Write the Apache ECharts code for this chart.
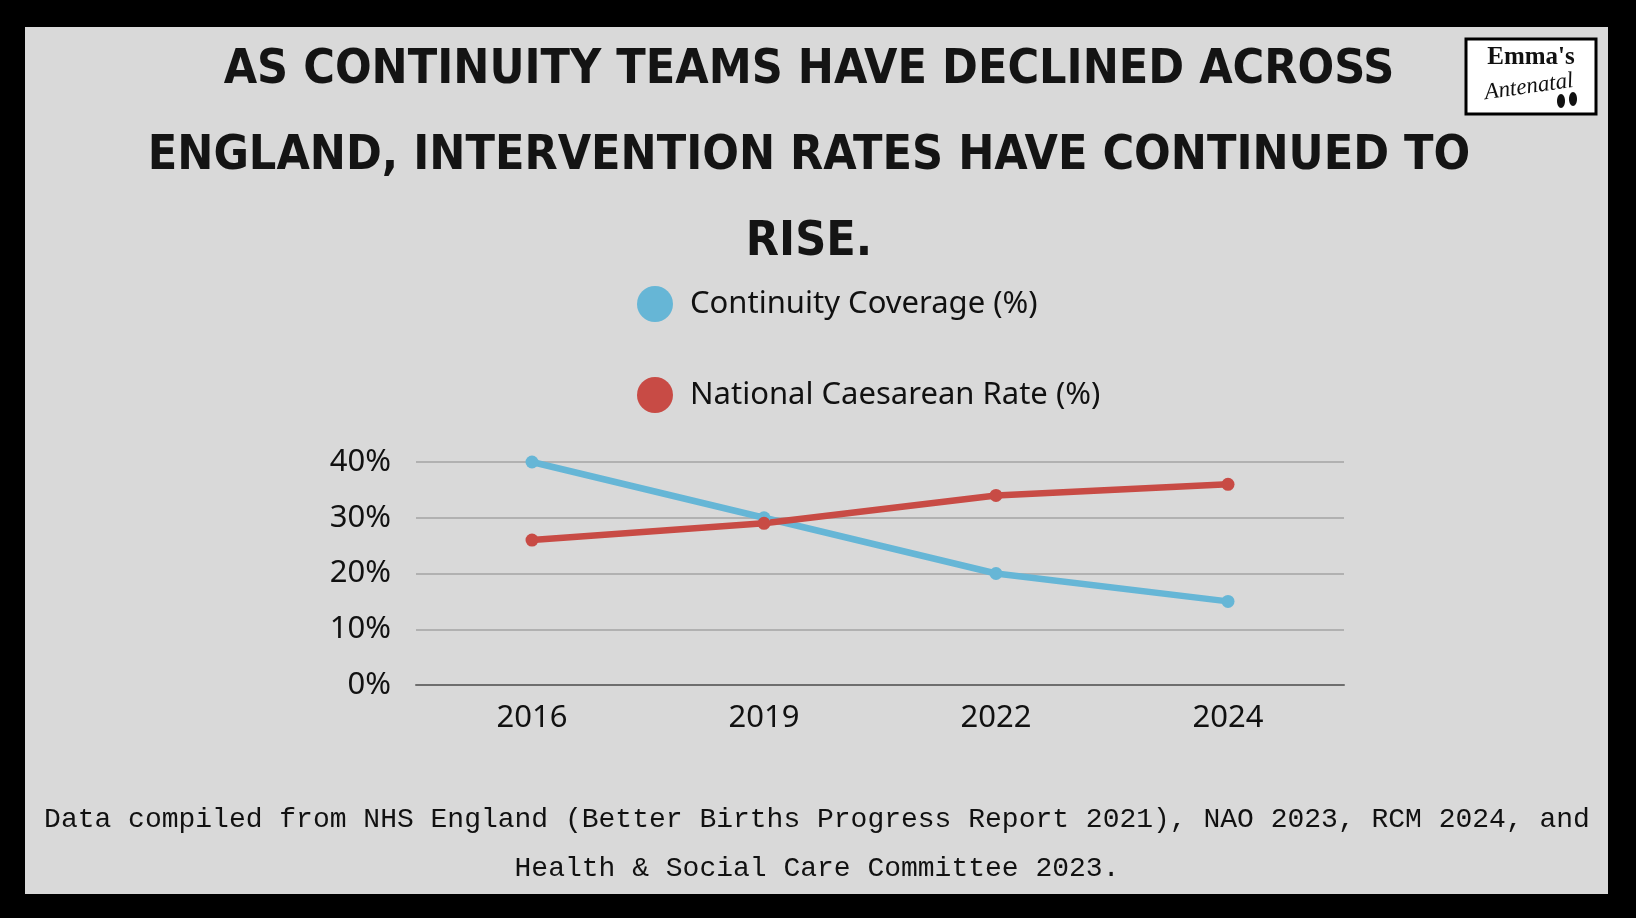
<!DOCTYPE html>
<html>
<head>
<meta charset="utf-8">
<script src="https://cdn.jsdelivr.net/npm/echarts@6/dist/echarts.min.js"></script>
<style>
html,body{margin:0;padding:0;background:#000;}
#chart{width:1636px;height:918px;}
</style>
</head>
<body>
<div id="chart"></div>
<script>
const years = ['2016', '2019', '2022', '2024'];
const continuityCoverage = [40, 30, 20, 15];
const caesareanRate = [26, 29, 34, 36];
const yTicks = [0, 10, 20, 30, 40];
const titleLines = [
  'AS CONTINUITY TEAMS HAVE DECLINED ACROSS',
  'ENGLAND, INTERVENTION RATES HAVE CONTINUED TO',
  'RISE.'
];
const footerLines = [
  'Data compiled from NHS England (Better Births Progress Report 2021), NAO 2023, RCM 2024, and',
  'Health & Social Care Committee 2023.'
];

const BLUE = '#66b6d6';
const RED = '#c84b45';
const titleFont = "'DejaVu Sans Condensed', 'Liberation Sans', sans-serif";
const labelFont = "'Noto Sans', 'DejaVu Sans', sans-serif";
const footFont = "'Liberation Mono', 'DejaVu Sans Mono', monospace";

const chart = echarts.init(document.getElementById('chart'));

const graphics = [
  { type: 'rect', z: -1, shape: { x: 25, y: 27, width: 1583, height: 867 }, style: { fill: '#d9d9d9' } },
  // logo
  { type: 'rect', shape: { x: 1466, y: 39, width: 130, height: 75 }, style: { fill: '#ffffff', stroke: '#000', lineWidth: 3 } },
  { type: 'text', x: 1531, y: 58, style: { text: "Emma's", font: "bold 25px 'Liberation Serif', serif", fill: '#111', textAlign: 'center', textVerticalAlign: 'middle' } },
  { type: 'text', x: 1529, y: 87, rotation: 0.14, style: { text: 'Antenatal', font: "italic 23px 'Liberation Serif', serif", fill: '#111', textAlign: 'center', textVerticalAlign: 'middle' } },
  { type: 'ellipse', shape: { cx: 1561, cy: 101, rx: 4, ry: 7 }, style: { fill: '#111' } },
  { type: 'ellipse', shape: { cx: 1573, cy: 99, rx: 4, ry: 7 }, style: { fill: '#111' } }
];
titleLines.forEach((t, i) => {
  graphics.push({ type: 'text', x: 809, y: 71 + i * 86, style: { text: t, font: 'bold 48px ' + titleFont, fill: '#141414', textAlign: 'center', textVerticalAlign: 'middle' } });
});
footerLines.forEach((t, i) => {
  graphics.push({ type: 'text', x: 817, y: 820 + i * 49, style: { text: t, font: '28px ' + footFont, fill: '#111', textAlign: 'center', textVerticalAlign: 'middle' } });
});

chart.setOption({
  backgroundColor: '#000',
  animation: false,
  graphic: graphics,
  legend: {
    orient: 'vertical',
    left: 632,
    top: 281,
    itemWidth: 36,
    itemHeight: 36,
    itemGap: 55,
    icon: 'circle',
    textStyle: { fontFamily: labelFont, fontSize: 31, color: '#111', padding: [0, 0, 0, 12] },
    data: ['Continuity Coverage (%)', 'National Caesarean Rate (%)']
  },
  grid: { left: 416, top: 462, width: 928, height: 223, containLabel: false },
  xAxis: {
    type: 'category',
    data: years,
    boundaryGap: true,
    axisLine: { show: true, lineStyle: { color: '#6e6e6e', width: 2 } },
    axisTick: { show: false },
    axisLabel: { fontFamily: labelFont, fontSize: 31, color: '#111', margin: 18 }
  },
  yAxis: {
    type: 'value',
    min: yTicks[0],
    max: yTicks[yTicks.length - 1],
    interval: 10,
    axisLine: { show: false },
    axisTick: { show: false },
    splitLine: { lineStyle: { color: '#a3a3a3', width: 1.5 } },
    axisLabel: { fontFamily: labelFont, fontSize: 31, color: '#111', margin: 25, formatter: v => v + '%' }
  },
  series: [
    {
      name: 'Continuity Coverage (%)', type: 'line', data: continuityCoverage,
      color: BLUE, lineStyle: { width: 6.5, color: BLUE }, itemStyle: { color: BLUE },
      symbol: 'circle', symbolSize: 13
    },
    {
      name: 'National Caesarean Rate (%)', type: 'line', data: caesareanRate,
      color: RED, lineStyle: { width: 6.5, color: RED }, itemStyle: { color: RED },
      symbol: 'circle', symbolSize: 13
    }
  ]
});
</script>
</body>
</html>
